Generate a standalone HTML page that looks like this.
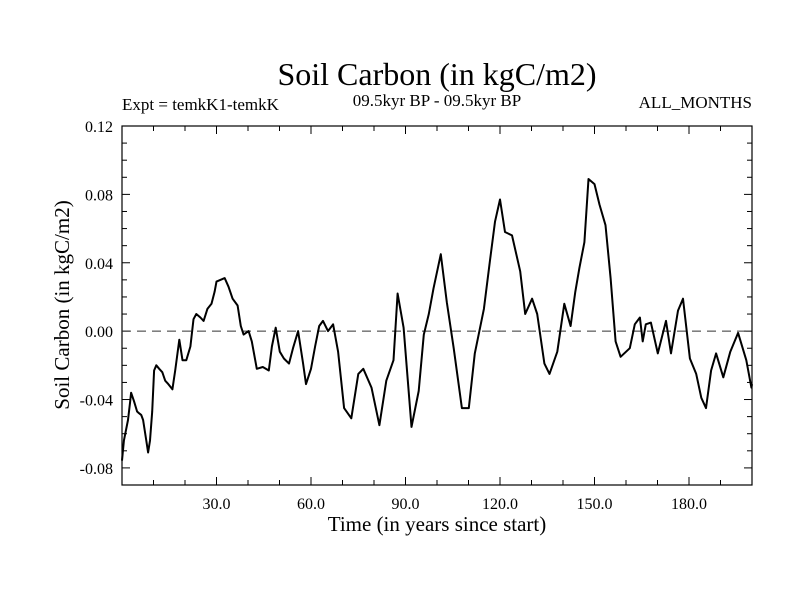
<!DOCTYPE html>
<html><head><meta charset="utf-8"><style>
body{margin:0;background:#fff;}
svg text{font-family:"Liberation Serif",serif;fill:#000;}
</style></head><body>
<svg id="chart" width="800" height="600" xmlns="http://www.w3.org/2000/svg">
<rect width="800" height="600" fill="#fff"/>
<text x="437" y="85" font-size="32" text-anchor="middle">Soil Carbon (in kgC/m2)</text>
<text x="122" y="110" font-size="17">Expt = temkK1-temkK</text>
<text x="437" y="106" font-size="17" text-anchor="middle">09.5kyr BP - 09.5kyr BP</text>
<text x="752" y="108" font-size="17" text-anchor="end">ALL_MONTHS</text>
<text x="437" y="531" font-size="21" text-anchor="middle">Time (in years since start)</text>
<text x="0" y="0" font-size="21" text-anchor="middle" transform="translate(69,305) rotate(-90)">Soil Carbon (in kgC/m2)</text>
<g id="axes"></g>
<g id="plot"></g>
</svg>
<script>
const years=[0,0.6,1.9,2.6,2.9,3.8,4.8,5.4,6.1,6.7,7.7,8.3,8.9,9.6,10.2,10.9,11.8,12.8,13.7,14.7,16.0,16.9,18.2,19.2,20.4,21.7,22.7,23.6,24.9,25.9,27.1,28.4,29.4,30.0,32.6,33.8,35.1,36.7,37.7,38.6,40.2,41.2,42.8,44.7,46.6,47.6,48.8,50.1,51.4,53.0,54.3,55.9,57.5,58.4,60.0,61.3,62.6,63.8,65.4,67.0,68.6,70.5,72.8,75.0,76.6,79.2,81.7,83.9,86.2,87.5,89.4,91.9,94.2,95.8,97.4,98.9,101.2,103.1,105.3,107.9,110.1,112.0,114.9,116.8,118.4,120.0,121.6,123.8,126.4,128.0,130.2,131.8,134.1,135.7,138.2,140.4,142.4,143.9,145.2,146.8,148.1,150.0,151.6,153.5,155.1,156.7,158.3,161.2,162.8,164.4,165.3,166.3,167.9,170.1,172.7,174.3,176.5,178.1,180.3,182.3,183.9,185.4,187.0,188.6,190.9,193.1,195.6,198.2,199.8,200];
const values=[-0.0757,-0.064,-0.052,-0.041,-0.036,-0.041,-0.047,-0.048,-0.049,-0.052,-0.064,-0.071,-0.064,-0.047,-0.023,-0.020,-0.022,-0.024,-0.029,-0.031,-0.034,-0.023,-0.005,-0.017,-0.017,-0.009,0.007,0.010,0.008,0.006,0.013,0.016,0.023,0.029,0.031,0.026,0.019,0.015,0.003,-0.002,0.000,-0.006,-0.022,-0.021,-0.023,-0.009,0.002,-0.012,-0.016,-0.019,-0.010,0.000,-0.019,-0.031,-0.022,-0.009,0.003,0.006,0.000,0.004,-0.012,-0.045,-0.051,-0.025,-0.022,-0.033,-0.055,-0.029,-0.017,0.022,0.002,-0.056,-0.035,-0.002,0.010,0.025,0.045,0.017,-0.010,-0.045,-0.045,-0.013,0.013,0.041,0.064,0.077,0.058,0.056,0.035,0.010,0.019,0.010,-0.019,-0.025,-0.012,0.016,0.003,0.023,0.037,0.052,0.089,0.086,0.074,0.062,0.031,-0.006,-0.015,-0.010,0.004,0.008,-0.006,0.004,0.005,-0.013,0.006,-0.013,0.012,0.019,-0.016,-0.025,-0.039,-0.045,-0.023,-0.013,-0.027,-0.012,-0.001,-0.017,-0.033,-0.031];
const xTicks=[30,60,90,120,150,180];
const xTickLabels=["30.0","60.0","90.0","120.0","150.0","180.0"];
const yTicks=[-0.08,-0.04,0,0.04,0.08,0.12];
const yTickLabels=["-0.08","-0.04","0.00","0.04","0.08","0.12"];
const X0=122,X1=752,Y0=126,Y1=485,xMin=0,xMax=200,yMin=-0.09,yMax=0.12;
const xs=v=>X0+(v-xMin)/(xMax-xMin)*(X1-X0);
const ys=v=>Y1-(v-yMin)/(yMax-yMin)*(Y1-Y0);
const NS="http://www.w3.org/2000/svg";
const axes=document.getElementById('axes'),plot=document.getElementById('plot');
function mk(tag,attrs,parent){const e=document.createElementNS(NS,tag);for(const k in attrs)e.setAttribute(k,attrs[k]);parent.appendChild(e);return e;}
const frame=mk('rect',{x:X0,y:Y0,width:X1-X0,height:Y1-Y0,fill:'none',stroke:'#000','stroke-width':1.2},axes);


for(let t=10;t<xMax;t+=10){const maj=t%30===0,L=maj?8:5,x=xs(t);
 const a=mk('line',{x1:x,x2:x,y1:Y1,y2:Y1-L,stroke:'#000'},axes);
 
 
 const b=mk('line',{x1:x,x2:x,y1:Y0,y2:Y0+L,stroke:'#000'},axes);
 
 }
for(let i=-8;i<=11;i++){const v=i/100,maj=(i%4===0),L=maj?8:5,y=ys(v);
 const a=mk('line',{x1:X0,x2:X0+L,y1:y,y2:y,stroke:'#000'},axes);
 
 
 const b=mk('line',{x1:X1,x2:X1-L,y1:y,y2:y,stroke:'#000'},axes);
 
 }
xTicks.forEach((t,i)=>{const e=mk('text',{x:xs(t),y:Y1+24,'font-size':16,'text-anchor':'middle'},axes);e.textContent=xTickLabels[i];
 
 });
yTicks.forEach((t,i)=>{const e=mk('text',{x:X0-9,y:ys(t)+6,'font-size':16,'text-anchor':'end'},axes);e.textContent=yTickLabels[i];
 
 });
const zl=mk('line',{x1:X0,x2:X1,y1:ys(0),y2:ys(0),stroke:'#333','stroke-width':1,'stroke-dasharray':'9,6'},plot);


const d=years.map((y,i)=>(i?'L':'M')+xs(y).toFixed(1)+','+ys(values[i]).toFixed(1)).join('');
const p=mk('path',{d:d,fill:'none',stroke:'#000','stroke-width':2,'stroke-linejoin':'round'},plot);


</script>
</body></html>
